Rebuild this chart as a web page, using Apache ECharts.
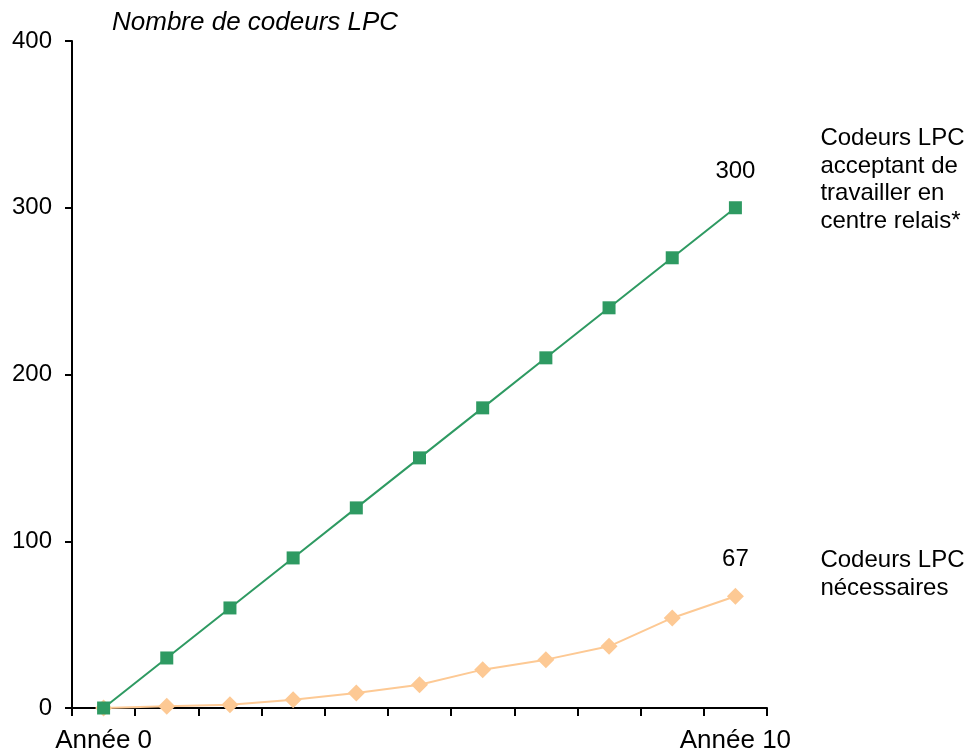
<!DOCTYPE html>
<html><head><meta charset="utf-8">
<script src="https://cdn.jsdelivr.net/npm/echarts@6/dist/echarts.min.js"></script>
<style>html,body{margin:0;padding:0;background:#fff}#c{width:970px;height:752px}</style>
</head><body><div id="c"></div>
<script>
var categories = ['Année 0','1','2','3','4','5','6','7','8','9','Année 10'];
var xLabels = ['Année 0','','','','','','','','','','Année 10'];
var acceptants = [0,30,60,90,120,150,180,210,240,270,300];
var necessaires = [0,1,2,5,9,14,23,29,37,54,67];
var yTicks = [0,100,200,300,400];
var titleText = 'Nombre de codeurs LPC';
var labelAcceptants = 'Codeurs LPC\nacceptant de\ntravailler en\ncentre relais*';
var labelNecessaires = 'Codeurs LPC\nnécessaires';

var FONT = 'Liberation Sans, Arial, Helvetica, sans-serif';
var green = '#2e9a62', orange = '#fdc994';
var chart = echarts.init(document.getElementById('c'));
chart.setOption({
  animation: false,
  backgroundColor: '#fff',
  title: { text: titleText, left: 107, top: 5,
    textStyle: { fontFamily: FONT, fontSize: 26, fontStyle: 'italic', fontWeight: 'normal', color: '#000' } },
  grid: { left: 72, right: 203, top: 41, bottom: 44, containLabel: false, outerBoundsMode: 'none' },
  xAxis: { type: 'category', data: categories, boundaryGap: true,
    axisLine: { lineStyle: { color: '#000', width: 2 } },
    axisTick: { show: true, length: 8, alignWithLabel: false, interval: 0, lineStyle: { color: '#000', width: 2 } },
    axisLabel: { interval: 0, margin: 20, color: '#000', fontFamily: FONT, fontSize: 26,
      formatter: function(v, i){ return xLabels[i]; } },
    splitLine: { show: false } },
  yAxis: { type: 'value', min: yTicks[0], max: yTicks[yTicks.length-1], interval: 100,
    axisLine: { show: true, lineStyle: { color: '#000', width: 2 } },
    axisTick: { show: true, length: 7, lineStyle: { color: '#000', width: 2 } },
    axisLabel: { margin: 20, color: '#000', fontFamily: FONT, fontSize: 24 },
    splitLine: { show: false } },
  series: [
    { name: 'nécessaires', type: 'line', data: necessaires,
      symbol: 'diamond', symbolSize: 17,
      itemStyle: { color: orange }, lineStyle: { color: orange, width: 2 },
      label: { show: true, position: 'top', distance: 16, color: '#000', fontFamily: FONT, fontSize: 24,
        formatter: function(p){ return p.dataIndex === necessaires.length-1 ? String(p.value) : ''; } },
      endLabel: { show: true, formatter: labelNecessaires, color: '#000', fontFamily: FONT, fontSize: 24,
        lineHeight: 28, distance: 85, offset: [0, -22], align: 'left', verticalAlign: 'middle' } },
    { name: 'acceptants', type: 'line', data: acceptants,
      symbol: 'rect', symbolSize: 13,
      itemStyle: { color: green }, lineStyle: { color: green, width: 2 },
      label: { show: true, position: 'top', distance: 18, color: '#000', fontFamily: FONT, fontSize: 24,
        formatter: function(p){ return p.dataIndex === acceptants.length-1 ? String(p.value) : ''; } },
      endLabel: { show: true, formatter: labelAcceptants, color: '#000', fontFamily: FONT, fontSize: 24,
        lineHeight: 27.5, distance: 85, offset: [0, -28], align: 'left', verticalAlign: 'middle' } }
  ]
});
</script></body></html>
